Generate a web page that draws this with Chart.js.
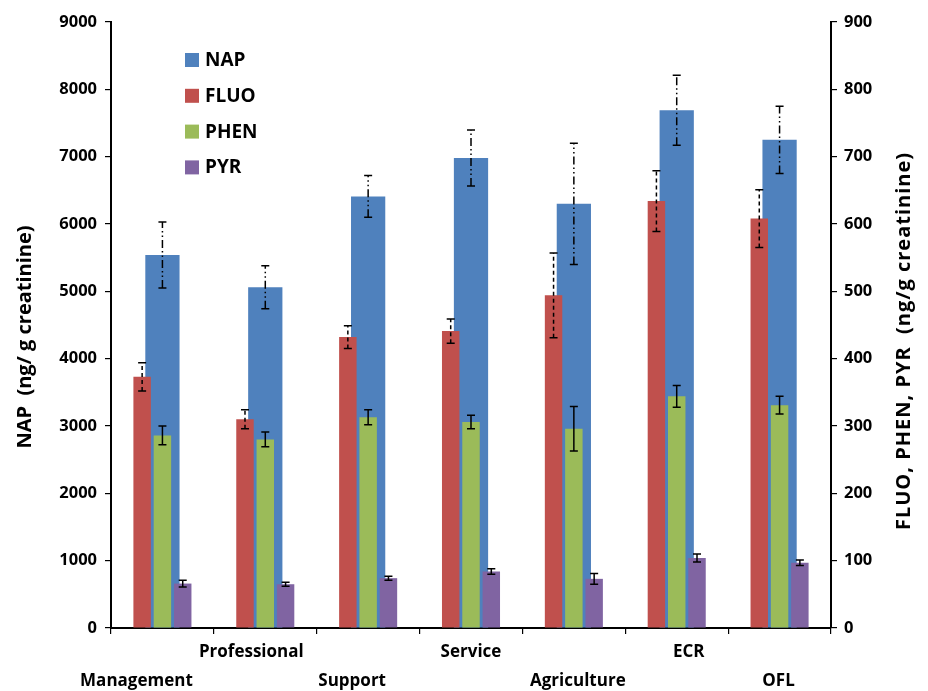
<!DOCTYPE html>
<html>
<head>
<meta charset="utf-8">
<script src="https://cdn.jsdelivr.net/npm/chart.js@4/dist/chart.umd.min.js"></script>
<style>
  html, body { margin: 0; padding: 0; background: #fff; }
  #wrap { width: 928px; height: 691px; position: relative; }
</style>
</head>
<body>
<div id="wrap"><canvas id="c" width="928" height="691"></canvas></div>
<script>
// Occupational groups
const categories = ['Management', 'Professional', 'Support', 'Service', 'Agriculture', 'ECR', 'OFL'];

// NAP (left axis, ng/g creatinine)
const napValues = [5540, 5060, 6410, 6980, 6300, 7690, 7250];
const napErrors = [490, 320, 310, 415, 900, 520, 500];

// FLUO, PHEN, PYR (right axis, ng/g creatinine)
const fluoValues = [373, 310, 432, 441, 494, 634, 608];
const fluoErrors = [21, 14, 17, 18, 63, 45, 43];
const phenValues = [286, 280, 313, 306, 296, 344, 331];
const phenErrors = [14, 11, 11, 10, 33, 16, 13];
const pyrValues = [66, 65, 74, 84, 73, 104, 97];
const pyrErrors = [5, 3, 3, 4, 8, 6, 4];

// Axis ranges
const napTicks = { min: 0, max: 9000, step: 1000 };
const otherTicks = { min: 0, max: 900, step: 100 };

// Horizontal nudges for the staggered category labels
const labelShift = [-26, -14, -16, 0, 4, 12, -1];

const FONT = "'Open Sans', 'DejaVu Sans', sans-serif";

// Error bars, drawn on top of the bars
const errorBars = {
  id: 'errorBars',
  afterDatasetsDraw(chart) {
    const ctx = chart.ctx;
    const specs = [
      { ds: 0, err: napErrors, dash: [8, 3, 1.5, 3, 1.5, 3] },
      { ds: 1, err: fluoErrors, dash: [4, 3] },
      { ds: 2, err: phenErrors, dash: [] },
      { ds: 3, err: pyrErrors, dash: [] }
    ];
    ctx.save();
    ctx.strokeStyle = '#000';
    ctx.lineWidth = 1.5;
    specs.forEach(s => {
      const meta = chart.getDatasetMeta(s.ds);
      const yScale = chart.scales[meta.yAxisID];
      const vals = chart.data.datasets[s.ds].data;
      meta.data.forEach((bar, i) => {
        const v = vals[i], e = s.err[i];
        const yTop = yScale.getPixelForValue(v + e);
        const yBot = yScale.getPixelForValue(v - e);
        const x = bar.x;
        const cap = 4;
        ctx.setLineDash(s.dash);
        ctx.beginPath();
        ctx.moveTo(x, yBot);
        ctx.lineTo(x, yTop);
        ctx.stroke();
        ctx.setLineDash([]);
        ctx.beginPath();
        ctx.moveTo(x - cap, yTop); ctx.lineTo(x + cap, yTop);
        ctx.moveTo(x - cap, yBot); ctx.lineTo(x + cap, yBot);
        ctx.stroke();
      });
    });
    ctx.restore();
  }
};

// Legend block in the upper left of the plot, axis titles on both sides
const decorations = {
  id: 'decorations',
  beforeDraw(chart) {
    const xs = chart.scales.x;
    const items = xs.getLabelItems(chart.chartArea);
    items.forEach((it, i) => {
      if (!it._nudged) {
        it.options.translation[0] += labelShift[i] || 0;
        it._nudged = true;
      }
    });
  },
  afterDraw(chart) {
    const ctx = chart.ctx;
    ctx.save();
    // legend
    const ds = chart.data.datasets;
    ctx.font = "bold 19px " + FONT;
    ctx.textBaseline = 'middle';
    ctx.textAlign = 'left';
    ds.forEach((d, i) => {
      const top = 53 + i * 35.8;
      ctx.fillStyle = d.backgroundColor;
      ctx.fillRect(185, top, 14, 14);
      ctx.fillStyle = '#000';
      ctx.fillText(d.label, 205, top + 7.5);
    });
    // axis titles
    ctx.font = "bold 20px " + FONT;
    ctx.textAlign = 'center';
    ctx.fillStyle = '#000';
    ctx.save();
    ctx.translate(25, 337);
    ctx.rotate(-Math.PI / 2);
    ctx.fillText('NAP  (ng/ g creatinine)', 0, 0);
    ctx.restore();
    ctx.save();
    ctx.translate(904, 341);
    ctx.rotate(-Math.PI / 2);
    ctx.letterSpacing = '1px';
    ctx.fillText('FLUO, PHEN, PYR  (ng/g creatinine)', 0, 0);
    ctx.restore();
    ctx.restore();
  }
};

const tickFont = { family: FONT, weight: 'bold', size: 16.5 };
const axisGrid = { drawOnChartArea: false, drawTicks: true, tickLength: 6, color: '#000', lineWidth: 1.2 };
const axisBorder = { display: true, color: '#000', width: 2 };
const plainNumber = v => String(v);

new Chart(document.getElementById('c'), {
  type: 'bar',
  data: {
    labels: categories,
    datasets: [
      { label: 'NAP', data: napValues, yAxisID: 'y', backgroundColor: '#4F81BD',
        grouped: false, order: 1, categoryPercentage: 0.333, barPercentage: 1 },
      { label: 'FLUO', data: fluoValues, yAxisID: 'y1', backgroundColor: '#C0504D',
        order: 0, categoryPercentage: 0.592, barPercentage: 0.86 },
      { label: 'PHEN', data: phenValues, yAxisID: 'y1', backgroundColor: '#9BBB59',
        order: 0, categoryPercentage: 0.592, barPercentage: 0.86 },
      { label: 'PYR', data: pyrValues, yAxisID: 'y1', backgroundColor: '#8064A2',
        order: 0, categoryPercentage: 0.592, barPercentage: 0.86 }
    ]
  },
  options: {
    responsive: false,
    animation: false,
    events: [],
    layout: { padding: { top: 22, left: 0, right: 0, bottom: 0 } },
    plugins: { legend: { display: false }, tooltip: { enabled: false } },
    scales: {
      x: {
        position: 'bottom',
        offset: true,
        grid: { ...axisGrid, offset: true },
        border: axisBorder,
        ticks: {
          color: '#000',
          font: { family: FONT, weight: 'bold', size: 17, lineHeight: 1.7 },
          padding: 4,
          autoSkip: false,
          maxRotation: 0,
          minRotation: 0,
          callback: (v, i) => (i % 2 === 0 ? ['', categories[i]] : [categories[i]])
        },
        afterFit: s => { s.height = 63; }
      },
      y: {
        position: 'left',
        min: napTicks.min, max: napTicks.max,
        grid: axisGrid,
        border: axisBorder,
        ticks: { stepSize: napTicks.step, color: '#000', font: tickFont, padding: 8, callback: plainNumber },
        afterFit: s => { s.width = 111; }
      },
      y1: {
        position: 'right',
        min: otherTicks.min, max: otherTicks.max,
        grid: axisGrid,
        border: axisBorder,
        ticks: { stepSize: otherTicks.step, color: '#000', font: tickFont, padding: 7, callback: plainNumber },
        afterFit: s => { s.width = 97; }
      }
    }
  },
  plugins: [errorBars, decorations]
});
</script>
</body>
</html>
